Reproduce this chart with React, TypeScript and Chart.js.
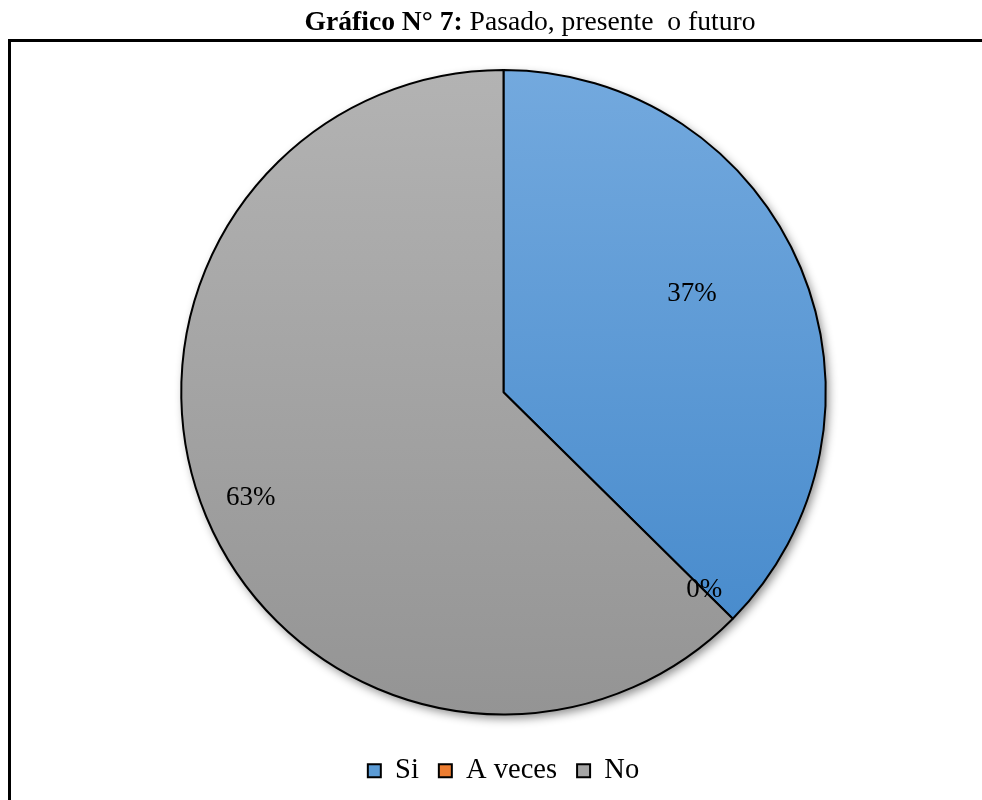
import React, { useEffect, useRef } from "react";
import { Chart, registerables } from "chart.js";

Chart.register(...registerables);

const categories = ["Si", "A veces", "No"];
const percentages = [37.4, 0, 62.6];
const labelText = ["37%", "0%", "63%"];
const sliceTop = ["#73a9de", "#f08a45", "#b3b3b3"];
const sliceBottom = ["#4287ca", "#e06d20", "#949494"];
const legendColors = ["#5b9bd5", "#ed7d31", "#a5a5a5"];

const FONT = "'Liberation Serif', 'Times New Roman', serif";

const framePlugin = {
  id: "framePlugin",
  beforeDraw(chart: any) {
    const ctx = chart.ctx;
    ctx.save();
    ctx.fillStyle = "#ffffff";
    ctx.fillRect(0, 0, chart.width, chart.height);
    ctx.fillStyle = "#000000";
    ctx.fillRect(8, 39, chart.width - 8, 3);
    ctx.fillRect(8, 39, 3, chart.height - 39);
    const bold = "Gráfico N° 7: ";
    const normal = "Pasado, presente  o futuro";
    const size = 27.6;
    ctx.font = `bold ${size}px ${FONT}`;
    const wb = ctx.measureText(bold).width;
    ctx.font = `${size}px ${FONT}`;
    const wn = ctx.measureText(normal).width;
    const cx = 530;
    const x0 = cx - (wb + wn) / 2;
    ctx.textBaseline = "alphabetic";
    ctx.textAlign = "left";
    ctx.font = `bold ${size}px ${FONT}`;
    ctx.fillText(bold, x0, 30);
    ctx.font = `${size}px ${FONT}`;
    ctx.fillText(normal, x0 + wb, 30);
    ctx.restore();
  },
};

const shadowPlugin = {
  id: "shadowPlugin",
  beforeDatasetsDraw(chart: any) {
    const meta = chart.getDatasetMeta(0);
    const arc = meta.data[0];
    if (!arc) return;
    const { x, y, outerRadius } = arc.getProps(["x", "y", "outerRadius"], true);
    const ctx = chart.ctx;
    ctx.save();
    ctx.shadowColor = "rgba(0,0,0,0.45)";
    ctx.shadowBlur = 10;
    ctx.shadowOffsetX = 3;
    ctx.shadowOffsetY = 4;
    ctx.fillStyle = "#ffffff";
    ctx.beginPath();
    ctx.arc(x, y, outerRadius, 0, Math.PI * 2);
    ctx.fill();
    ctx.restore();
  },
};

const labelPlugin = {
  id: "labelPlugin",
  afterDatasetsDraw(chart: any, _args: any, opts: any) {
    const meta = chart.getDatasetMeta(0);
    const ctx = chart.ctx;
    ctx.save();
    ctx.font = `27px ${FONT}`;
    ctx.fillStyle = "#000000";
    ctx.textAlign = "center";
    ctx.textBaseline = "middle";
    meta.data.forEach((el: any, i: number) => {
      const p = el.getProps(["x", "y", "startAngle", "endAngle", "outerRadius"], true);
      const pos = opts.positions[i];
      const a = p.startAngle + pos.along * (p.endAngle - p.startAngle);
      const r = p.outerRadius * pos.radius;
      ctx.fillText(labelText[i], p.x + Math.cos(a) * r, p.y + Math.sin(a) * r);
    });
    ctx.restore();
  },
};

export default function App() {
  const ref = useRef<HTMLCanvasElement | null>(null);
  useEffect(() => {
    if (!ref.current) return;
    const chart = new Chart(ref.current, {
      type: "pie",
      data: {
        labels: categories,
        datasets: [
          {
            data: percentages,
            backgroundColor: (c: any) => {
              const area = c.chart.chartArea;
              if (!area) return legendColors[c.dataIndex];
              const g = c.chart.ctx.createLinearGradient(0, area.top, 0, area.bottom);
              g.addColorStop(0, sliceTop[c.dataIndex]);
              g.addColorStop(1, sliceBottom[c.dataIndex]);
              return g;
            },
            borderColor: "#000000",
            borderWidth: 2,
          },
        ],
      },
      options: {
        responsive: false,
        animation: false,
        layout: { padding: { top: 69, left: 25, right: 0, bottom: 5 } },
        plugins: {
          title: { display: false },
          tooltip: { enabled: false },
          legend: {
            display: true,
            position: "bottom",
            title: {
              display: true,
              text: " ",
              color: "#000000",
              font: { family: FONT, size: 10, lineHeight: 1 },
              padding: { top: 11, bottom: 0 },
            },
            labels: {
              font: { family: FONT, size: 28.5 },
              color: "#000000",
              boxWidth: 13,
              boxHeight: 13,
              padding: 20,
              generateLabels: () =>
                categories.map((c, i) => ({
                  text: c,
                  fillStyle: legendColors[i],
                  strokeStyle: "#000000",
                  fontColor: "#000000",
                  lineWidth: 2,
                  hidden: false,
                  index: i,
                  datasetIndex: 0,
                })),
            },
          },
          labelPlugin: {
            positions: [
              { along: 0.464, radius: 0.66 },
              { along: 0.5, radius: 0.875 },
              { along: 0.5, radius: 0.85 },
            ],
          },
        } as any,
      },
      plugins: [framePlugin, shadowPlugin, labelPlugin],
    });
    return () => chart.destroy();
  }, []);
  return (
    <div style={{ position: "fixed", left: 0, top: 0, width: 982, height: 800 }}>
      <canvas ref={ref} width={982} height={800} style={{ display: "block" }} />
    </div>
  );
}
